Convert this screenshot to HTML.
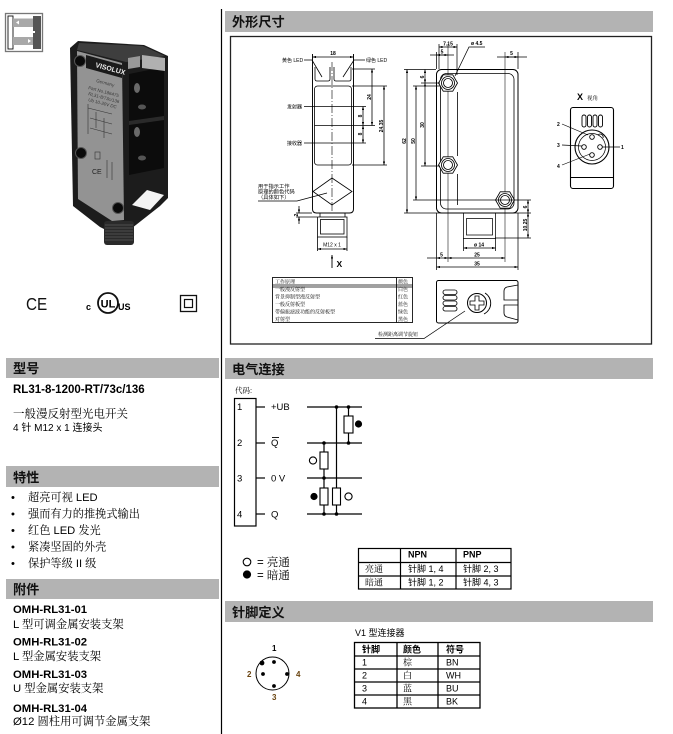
<!DOCTYPE html>
<html><head><meta charset="utf-8">
<style>
html,body{margin:0;padding:0;background:#fff;}
svg{display:block;}
.s{font-family:"Liberation Sans","Noto Sans CJK SC",sans-serif;}
.r{font-family:"Liberation Sans","Noto Serif CJK SC",serif;}
.h{font-family:"Liberation Sans","Noto Sans CJK SC",sans-serif;font-weight:bold;}
</style></head><body>
<svg width="673" height="734" viewBox="0 0 673 734" xmlns="http://www.w3.org/2000/svg">
<defs>
<marker id="a" viewBox="0 0 6 4" refX="6" refY="2" markerWidth="3.5" markerHeight="2.4" orient="auto-start-reverse" markerUnits="userSpaceOnUse"><path d="M0,0L6,2L0,4z" fill="#000"/></marker>
</defs>

<!-- header bars -->
<g fill="#b3b3b3">
<rect x="225" y="11" width="428" height="21"/>
<rect x="6" y="358" width="213" height="20"/>
<rect x="225" y="358" width="428" height="21"/>
<rect x="6" y="466" width="213" height="21"/>
<rect x="6" y="579" width="213" height="20"/>
<rect x="225" y="601" width="428" height="21"/>
</g>
<g class="h" font-size="13.2" fill="#111">
<text x="232" y="26.5">外形尺寸</text>
<text x="13" y="373">型号</text>
<text x="232" y="374">电气连接</text>
<text x="13" y="482">特性</text>
<text x="13" y="594">附件</text>
<text x="232" y="617">针脚定义</text>
</g>

<!-- vertical divider -->
<line x1="221.5" y1="9" x2="221.5" y2="734" stroke="#000" stroke-width="1.2"/>

<!-- top-left icon -->
<rect x="5.5" y="13.5" width="37" height="38" fill="#fff" stroke="#777" stroke-width="1.3"/>
<rect x="8" y="16" width="5" height="33" fill="#fff" stroke="#111" stroke-width="0.9"/>
<rect x="13" y="18.5" width="20" height="8.5" fill="#a8a8a8"/>
<rect x="13" y="37" width="20" height="8" fill="#a8a8a8"/>
<rect x="33" y="16" width="8" height="33" fill="#555"/>
<path d="M16,22.5 L19,20.5 L19,24.5z" fill="#fff"/>
<path d="M31,41 L28,39 L28,43z" fill="#fff"/>
<rect x="32" y="31" width="3" height="2" fill="#fff"/>

<!-- product photo -->
<g>
<polygon points="70,48 78,41 144,45 168,56 168,198 160,206 127,232 114,234 100,227 73,206" fill="#1c1c1c"/>
<polygon points="79,43 143,46 165,56 126,62 77,50" fill="#3e3e3e"/>
<polygon points="77,51 122,63 124,220 112,221 78,199" fill="#939393"/>
<polygon points="86,55 122,65 122,78 86,68" fill="#1a1a1a"/>
<text transform="translate(95,67) rotate(15) scale(0.5)" font-size="14" font-weight="bold" fill="#eee" class="s">VISOLUX</text>
<g fill="#3a3a3a" font-size="9" class="s">
<text transform="translate(96,82) rotate(15) scale(0.5)">Germany</text>
<text transform="translate(88,89) rotate(15) scale(0.5)">Part No.186475</text>
<text transform="translate(88,95) rotate(15) scale(0.5)">RL31-8/73c/136</text>
<text transform="translate(88,101) rotate(15) scale(0.5)">Ub 10-30V DC</text>
</g>
<g stroke="#333" stroke-width="0.6" fill="none">
<path d="M88,104 V134 M88,108 L112,114 M90,118 L112,124 M90,128 L112,134 M96,112 V128 M104,118 V138"/>
<rect x="95" y="152" width="5" height="7"/>
<path d="M107,160 V178 M112,162 V180"/>
</g>
<text x="92" y="174" font-size="7" fill="#222" class="s">CE</text>
<polygon points="129,74 164,67 164,168 129,175" fill="#0c0c0c"/>
<polygon points="129,121 164,116 164,120 129,125" fill="#2a2a2a"/>
<ellipse cx="137" cy="88" rx="3" ry="5" fill="#6a6a6a"/>
<ellipse cx="142" cy="107" rx="4" ry="2.5" fill="#555"/>
<ellipse cx="137" cy="132" rx="3" ry="5" fill="#6a6a6a"/>
<ellipse cx="142" cy="158" rx="4" ry="2.5" fill="#555"/>
<polygon points="142,55 165,58 165,71 142,68" fill="#b0b0b0"/>
<polygon points="128,58 140,56 140,67 128,69" fill="#999"/>
<polygon points="132,205 147,190 164,195 150,210" fill="#f4f4f4"/>
<circle cx="80" cy="61" r="5.5" fill="#0a0a0a" stroke="#555" stroke-width="1"/>
<circle cx="81" cy="153" r="5.5" fill="#0a0a0a" stroke="#555" stroke-width="1"/>
<circle cx="118" cy="208" r="5.5" fill="#0a0a0a" stroke="#555" stroke-width="1"/>
<rect x="104" y="221" width="30" height="24" rx="3" fill="#2a2a2a"/>
<g stroke="#5a5a5a" stroke-width="0.8">
<line x1="105" y1="225" x2="133" y2="225"/><line x1="105" y1="228" x2="133" y2="228"/>
<line x1="105" y1="231" x2="133" y2="231"/><line x1="105" y1="234" x2="133" y2="234"/>
<line x1="105" y1="237" x2="133" y2="237"/><line x1="105" y1="240" x2="133" y2="240"/>
</g>
</g>

<!-- certification marks -->
<text transform="translate(26,310) scale(0.85,1)" font-size="18" class="s" fill="#111">CE</text>
<text x="86" y="310" font-size="9" font-weight="bold" class="s">c</text>
<circle cx="108" cy="303" r="10" fill="none" stroke="#111" stroke-width="1.8"/>
<text x="108" y="307.5" font-size="11" font-weight="bold" class="s" text-anchor="middle">UL</text>
<text x="118" y="310" font-size="9" font-weight="bold" class="s">US</text>
<rect x="180.5" y="295.5" width="16" height="16" fill="none" stroke="#111" stroke-width="1.3"/>
<rect x="184.5" y="299.5" width="8" height="8" fill="none" stroke="#111" stroke-width="1.2"/>

<!-- left texts -->
<text x="13" y="393" font-size="11.5" font-weight="bold" class="s">RL31-8-1200-RT/73c/136</text>
<text x="13" y="417.5" font-size="11.5" class="r">一般漫反射型光电开关</text>
<text x="13" y="431" font-size="10" class="s">4 针 M12 x 1 连接头</text>
<g font-size="11.2" class="r">
<text x="11" y="501">•</text><text x="28" y="501">超亮可视 LED</text>
<text x="11" y="517.5">•</text><text x="28" y="517.5">强而有力的推挽式输出</text>
<text x="11" y="534">•</text><text x="28" y="534">红色 LED 发光</text>
<text x="11" y="550.5">•</text><text x="28" y="550.5">紧凑坚固的外壳</text>
<text x="11" y="567">•</text><text x="28" y="567">保护等级 II 级</text>
</g>
<g font-size="11.3" font-weight="bold" class="s">
<text x="13" y="613">OMH-RL31-01</text>
<text x="13" y="645.5">OMH-RL31-02</text>
<text x="13" y="678">OMH-RL31-03</text>
<text x="13" y="712">OMH-RL31-04</text>
</g>
<g font-size="11.3" class="r">
<text x="13" y="628">L 型可调金属安装支架</text>
<text x="13" y="660">L 型金属安装支架</text>
<text x="13" y="692">U 型金属安装支架</text>
<text x="13" y="725">Ø12 圆柱用可调节金属支架</text>
</g>

<!-- drawing box -->
<rect x="230.5" y="36.5" width="421" height="307.5" fill="none" stroke="#222" stroke-width="1.3"/>

<!-- side view -->
<g fill="none" stroke="#000" stroke-width="0.8">
<line x1="312.5" y1="57" x2="353.5" y2="57" marker-start="url(#a)" marker-end="url(#a)"/>
<path d="M312.5,54 V209 Q312.5,213 316.5,213 H349.5 Q353.5,213 353.5,209 V54" stroke-width="0.95"/>
<path d="M315,67 V79 Q315,81 317,81 H328 Q330,81 330,79 V67"/>
<path d="M334,67 V79 Q334,81 336,81 H349 Q351,81 351,79 V67"/>
<rect x="314.5" y="86" width="37" height="79" rx="3"/>
<line x1="332" y1="62" x2="332" y2="211" stroke-dasharray="9,2,1,2" stroke-width="0.6"/>
<path d="M332,178 L352,191.5 L332,205 L313,191.5 Z"/>
<line x1="320" y1="213" x2="320" y2="217"/>
<line x1="345" y1="213" x2="345" y2="217"/>
<rect x="317.5" y="217" width="29.5" height="20"/>
<rect x="320.5" y="219.5" width="23.5" height="14.5"/>
<!-- leaders -->
<path d="M304,60 H312 L322,77"/>
<path d="M365,60 H354 L343,77"/>
<line x1="304" y1="106.5" x2="366" y2="106.5"/>
<line x1="304" y1="143" x2="366" y2="143"/>
<line x1="314.5" y1="125.5" x2="375" y2="125.5"/>
<line x1="352" y1="69" x2="375" y2="69"/>
<line x1="352" y1="86" x2="387" y2="86"/>
<line x1="352" y1="165" x2="387" y2="165"/>
<line x1="372" y1="69" x2="372" y2="125.5" marker-start="url(#a)" marker-end="url(#a)"/>
<line x1="384" y1="86" x2="384" y2="165" marker-start="url(#a)" marker-end="url(#a)"/>
<line x1="363" y1="106.5" x2="363" y2="125.5" marker-start="url(#a)" marker-end="url(#a)"/>
<line x1="363" y1="125.5" x2="363" y2="143" marker-start="url(#a)" marker-end="url(#a)"/>
<path d="M258,201 H297 L327,193"/>
<line x1="296" y1="213" x2="312" y2="213"/>
<line x1="296" y1="217" x2="317" y2="217"/>
<line x1="299" y1="206" x2="299" y2="213" marker-end="url(#a)"/>
<line x1="299" y1="224" x2="299" y2="217" marker-end="url(#a)"/>
<line x1="317.5" y1="237" x2="317.5" y2="251"/>
<line x1="347" y1="237" x2="347" y2="251"/>
<line x1="317.5" y1="249" x2="347" y2="249" marker-start="url(#a)" marker-end="url(#a)"/>
<line x1="332" y1="268" x2="332" y2="255" marker-end="url(#a)" stroke-width="0.9"/>
</g>
<g font-size="10" class="s" fill="#000">
<text transform="translate(333,55) scale(0.5)" text-anchor="middle" font-weight="bold">18</text>
<text transform="translate(282,62) scale(0.5)">黄色 LED</text>
<text transform="translate(366,62) scale(0.5)">绿色 LED</text>
<text transform="translate(287,108.5) scale(0.5)">发射器</text>
<text transform="translate(287,145) scale(0.5)">接收器</text>
<text transform="translate(371,97) rotate(-90) scale(0.5)" text-anchor="middle" font-weight="bold">24</text>
<text transform="translate(383,126) rotate(-90) scale(0.5)" text-anchor="middle" font-weight="bold">24.35</text>
<text transform="translate(362,116) rotate(-90) scale(0.5)" text-anchor="middle" font-weight="bold">8</text>
<text transform="translate(362,134) rotate(-90) scale(0.5)" text-anchor="middle" font-weight="bold">8</text>
<text transform="translate(298,215) rotate(-90) scale(0.5)" text-anchor="middle" font-weight="bold">2</text>
<text transform="translate(332,246.5) scale(0.5)" text-anchor="middle">M12 x 1</text>
<text transform="translate(258,188) scale(0.5)" font-size="10.5">用于指示工作</text>
<text transform="translate(258,193.5) scale(0.5)" font-size="10.5">原理的颜色代码</text>
<text transform="translate(258,199) scale(0.5)" font-size="10.5">（具体如下）</text>
</g>
<text x="336.5" y="267" font-size="8.5" font-weight="bold" class="s">X</text>

<!-- color table -->
<g fill="none" stroke="#000" stroke-width="0.85">
<rect x="272.5" y="277.5" width="140" height="45"/>
<line x1="396.5" y1="277.5" x2="396.5" y2="322.5"/>
<line x1="272.5" y1="285" x2="412.5" y2="285"/>
<line x1="272.5" y1="287" x2="412.5" y2="287"/>
</g>
<g font-size="10" class="r">
<text transform="translate(275,283.5) scale(0.5)">工作原理</text>
<text transform="translate(275,291) scale(0.5)">一般漫反射型</text>
<text transform="translate(275,298.5) scale(0.5)">背景抑制型漫反射型</text>
<text transform="translate(275,306) scale(0.5)">一般反射板型</text>
<text transform="translate(275,313.5) scale(0.5)">带偏振滤波功能的反射板型</text>
<text transform="translate(275,321) scale(0.5)">对射型</text>
<text transform="translate(398,283.5) scale(0.5)">颜色</text>
<text transform="translate(398,291) scale(0.5)">白色</text>
<text transform="translate(398,298.5) scale(0.5)">红色</text>
<text transform="translate(398,306) scale(0.5)">蓝色</text>
<text transform="translate(398,313.5) scale(0.5)">绿色</text>
<text transform="translate(398,321) scale(0.5)">黑色</text>
<text transform="translate(378,336) scale(0.5)">检测距离调节旋钮</text>
</g>
<path d="M375,338.5 H424 L465,311" fill="none" stroke="#000" stroke-width="0.75"/>

<!-- front view -->
<g fill="none" stroke="#000" stroke-width="0.8">
<rect x="436.5" y="69.5" width="81.5" height="143.5" rx="5" stroke-width="1"/>
<rect x="440.5" y="73.5" width="73.5" height="135.5" rx="6"/>
<line x1="457.5" y1="92" x2="457.5" y2="156"/>
<line x1="457.5" y1="174" x2="457.5" y2="205"/>
<line x1="448" y1="44" x2="448" y2="262" stroke-width="0.55"/>
<line x1="505" y1="52" x2="505" y2="262" stroke-width="0.55"/>
</g>
<g fill="#fff" stroke="#000" stroke-width="0.85">
<polygon points="457.5,83 452.75,91.23 443.25,91.23 438.5,83 443.25,74.77 452.75,74.77"/>
<polygon points="457.5,165 452.75,173.23 443.25,173.23 438.5,165 443.25,156.77 452.75,156.77"/>
<polygon points="514.5,200 509.75,208.23 500.25,208.23 495.5,200 500.25,191.77 509.75,191.77"/>
<circle cx="448" cy="83" r="6.5"/><circle cx="448" cy="83" r="4.5"/>
<circle cx="448" cy="165" r="6.5"/><circle cx="448" cy="165" r="4.5"/>
<circle cx="505" cy="200" r="6.5"/><circle cx="505" cy="200" r="4.5"/>
</g>
<g fill="none" stroke="#000" stroke-width="0.75">
<rect x="463.5" y="213" width="32" height="25.5"/>
<rect x="466.5" y="218.5" width="26" height="16.5"/>
<!-- top dims -->
<line x1="439" y1="44" x2="439" y2="69"/>
<line x1="457" y1="44" x2="457" y2="75"/>
<line x1="439" y1="47" x2="457" y2="47" marker-start="url(#a)" marker-end="url(#a)"/>
<line x1="436.5" y1="52" x2="436.5" y2="69"/>
<line x1="430" y1="55" x2="454" y2="55"/>
<line x1="436.5" y1="55" x2="448" y2="55" marker-start="url(#a)" marker-end="url(#a)"/>
<path d="M485,47 H469 L455,76"/>
<line x1="518" y1="52" x2="518" y2="69"/>
<line x1="497" y1="57" x2="527" y2="57"/>
<line x1="505" y1="57" x2="518" y2="57" marker-start="url(#a)" marker-end="url(#a)"/>
<!-- left dims -->
<line x1="404" y1="69.5" x2="436" y2="69.5"/>
<line x1="404" y1="213" x2="531" y2="213"/>
<line x1="407" y1="69.5" x2="407" y2="213" marker-start="url(#a)" marker-end="url(#a)"/>
<line x1="413" y1="86" x2="440" y2="86"/>
<line x1="413" y1="200" x2="531" y2="200"/>
<line x1="416" y1="86" x2="416" y2="200" marker-start="url(#a)" marker-end="url(#a)"/>
<line x1="421" y1="83" x2="440" y2="83"/>
<line x1="421" y1="166" x2="440" y2="166"/>
<line x1="425" y1="69.5" x2="425" y2="83" marker-start="url(#a)" marker-end="url(#a)"/>
<line x1="425" y1="83" x2="425" y2="166" marker-start="url(#a)" marker-end="url(#a)"/>
<!-- right dims -->
<line x1="495" y1="238" x2="531" y2="238"/>
<line x1="528" y1="200" x2="528" y2="213" marker-start="url(#a)" marker-end="url(#a)"/>
<line x1="528" y1="213" x2="528" y2="238" marker-start="url(#a)" marker-end="url(#a)"/>
<!-- bottom dims -->
<line x1="463.5" y1="238" x2="463.5" y2="251"/>
<line x1="495.5" y1="238" x2="495.5" y2="251"/>
<line x1="463.5" y1="248" x2="495.5" y2="248" marker-start="url(#a)" marker-end="url(#a)"/>
<line x1="436.5" y1="213" x2="436.5" y2="270"/>
<line x1="518" y1="213" x2="518" y2="270"/>
<line x1="427" y1="258" x2="436.5" y2="258"/>
<line x1="436.5" y1="258" x2="448" y2="258" marker-start="url(#a)" marker-end="url(#a)"/>
<line x1="448" y1="258" x2="505" y2="258" marker-start="url(#a)" marker-end="url(#a)"/>
<line x1="436.5" y1="267" x2="518" y2="267" marker-start="url(#a)" marker-end="url(#a)"/>
</g>
<g font-size="10" class="s" font-weight="bold">
<text transform="translate(448,45.5) scale(0.5)" text-anchor="middle">7.15</text>
<text transform="translate(442,53.5) scale(0.5)" text-anchor="middle">5</text>
<text transform="translate(471,45) scale(0.5)">ø 4.5</text>
<text transform="translate(511.5,55) scale(0.5)" text-anchor="middle">5</text>
<text transform="translate(406,141) rotate(-90) scale(0.5)" text-anchor="middle">62</text>
<text transform="translate(415,141) rotate(-90) scale(0.5)" text-anchor="middle">50</text>
<text transform="translate(424,125) rotate(-90) scale(0.5)" text-anchor="middle">30</text>
<text transform="translate(424,77) rotate(-90) scale(0.5)" text-anchor="middle">6</text>
<text transform="translate(527,207) rotate(-90) scale(0.5)" text-anchor="middle">6</text>
<text transform="translate(527,225) rotate(-90) scale(0.5)" text-anchor="middle">10.25</text>
<text transform="translate(479,246.5) scale(0.5)" text-anchor="middle">ø 14</text>
<text transform="translate(441.5,256.5) scale(0.5)" text-anchor="middle">5</text>
<text transform="translate(477,256.5) scale(0.5)" text-anchor="middle">25</text>
<text transform="translate(477,265.5) scale(0.5)" text-anchor="middle">35</text>
</g>

<!-- X view -->
<text x="577" y="100" font-size="9" font-weight="bold" class="s">X</text>
<text transform="translate(587,100) scale(0.55)" font-size="10" class="r">视角</text>
<g fill="none" stroke="#000" stroke-width="0.9">
<rect x="570.5" y="107.5" width="43" height="81" rx="2.5" stroke-width="1.1"/>
<line x1="570.5" y1="177.5" x2="613.5" y2="177.5"/>
<rect x="582" y="115" width="4" height="12" rx="2"/>
<rect x="587.5" y="115" width="4" height="12" rx="2"/>
<rect x="593" y="115" width="4" height="12" rx="2"/>
<rect x="598.5" y="115" width="4" height="12" rx="2"/>
<circle cx="592" cy="147" r="17" stroke-width="1.1"/>
<circle cx="592" cy="147" r="13.5" stroke-width="0.7"/>
<circle cx="592" cy="137" r="2.3"/>
<circle cx="584" cy="147" r="2.3"/>
<circle cx="600" cy="147" r="2.3"/>
<circle cx="592" cy="155" r="2.3"/>
<path d="M598,135 A3,3 0 0 1 603,138" stroke-width="0.8"/>
<g stroke-width="0.65">
<line x1="562" y1="124" x2="588" y2="135"/>
<line x1="562" y1="145" x2="582" y2="146"/>
<line x1="562" y1="165" x2="590" y2="154"/>
<line x1="602" y1="147" x2="620" y2="147"/>
</g>
</g>
<g font-size="10" class="s" font-weight="bold">
<text transform="translate(557,126) scale(0.5)">2</text>
<text transform="translate(557,147) scale(0.5)">3</text>
<text transform="translate(557,168) scale(0.5)">4</text>
<text transform="translate(621,149) scale(0.5)">1</text>
</g>

<!-- adjuster view -->
<g fill="none" stroke="#000" stroke-width="0.85">
<rect x="436.5" y="280.5" width="81.5" height="42.5" rx="2" stroke-width="1"/>
<rect x="443" y="290" width="14" height="4.5" rx="2.2"/>
<rect x="443" y="295.5" width="14" height="4.5" rx="2.2"/>
<rect x="443" y="301" width="14" height="4.5" rx="2.2"/>
<rect x="443" y="306.5" width="14" height="4.5" rx="2.2"/>
<circle cx="477" cy="303" r="9.5" stroke-width="1"/>
<path d="M475,296 H479 V301 H484 V305 H479 V310 H475 V305 H470 V301 H475 Z" stroke-width="0.8"/>
<path d="M485,293 A12,12 0 0 1 484,314" stroke-width="0.9"/>
<path d="M518,285 L507,287 Q504,288 504,291 V300 H518"/>
<path d="M518,320 L507,317 Q504,316 504,313 V305 H518"/>
</g>

<!-- electrical connection -->
<text x="235" y="393" font-size="7.5" class="r">代码:</text>
<rect x="234.5" y="398.5" width="21.5" height="127.5" fill="none" stroke="#000" stroke-width="1.2"/>
<g font-size="9.5" class="s">
<text x="237" y="410">1</text>
<text x="237" y="446">2</text>
<text x="237" y="481.5">3</text>
<text x="237" y="517.5">4</text>
<text x="271" y="410">+UB</text>
<text x="271" y="446">Q</text>
<text x="271" y="481.5">0 V</text>
<text x="271" y="517.5">Q</text>
</g>
<line x1="272" y1="437.5" x2="279" y2="437.5" stroke="#000" stroke-width="0.9"/>
<g stroke="#000" stroke-width="1.2">
<line x1="256" y1="407" x2="265" y2="407"/>
<line x1="256" y1="443" x2="265" y2="443"/>
<line x1="256" y1="478" x2="265" y2="478"/>
<line x1="256" y1="514" x2="265" y2="514"/>
<line x1="307" y1="407" x2="362" y2="407"/>
<line x1="307" y1="443" x2="362" y2="443"/>
<line x1="307" y1="478" x2="362" y2="478"/>
<line x1="307" y1="514" x2="362" y2="514"/>
<line x1="336.5" y1="407" x2="336.5" y2="514"/>
<line x1="348.5" y1="407" x2="348.5" y2="443"/>
<line x1="324" y1="443" x2="324" y2="514"/>
</g>
<g fill="#fff" stroke="#000" stroke-width="1.1">
<rect x="344" y="416" width="9" height="17"/>
<rect x="320" y="452" width="8" height="17"/>
<rect x="320" y="488" width="8" height="17"/>
<rect x="332.5" y="488" width="8" height="17"/>
<circle cx="313" cy="460.5" r="3.6"/>
<circle cx="348.5" cy="496.5" r="3.6"/>
</g>
<g fill="#000">
<circle cx="358.5" cy="424" r="3.6"/>
<circle cx="314" cy="496.5" r="3.6"/>
<circle cx="336.5" cy="407" r="1.8"/>
<circle cx="348.5" cy="407" r="1.8"/>
<circle cx="348.5" cy="443" r="1.8"/>
<circle cx="324" cy="443" r="1.8"/>
<circle cx="324" cy="478" r="1.8"/>
<circle cx="324" cy="514" r="1.8"/>
<circle cx="336.5" cy="514" r="1.8"/>
</g>

<!-- legend -->
<circle cx="247" cy="562" r="3.8" fill="none" stroke="#000" stroke-width="1.1"/>
<circle cx="247" cy="574.5" r="4.1" fill="#000"/>
<g font-size="11.5" class="r">
<text x="257" y="566">= 亮通</text>
<text x="257" y="579">= 暗通</text>
</g>

<!-- NPN/PNP table -->
<g fill="none" stroke="#000" stroke-width="1.2">
<rect x="358.5" y="548.5" width="152.5" height="40.5"/>
<line x1="400.5" y1="548.5" x2="400.5" y2="589"/>
<line x1="456" y1="548.5" x2="456" y2="589"/>
<line x1="358.5" y1="562.5" x2="511" y2="562.5"/>
<line x1="358.5" y1="576" x2="511" y2="576"/>
</g>
<g font-size="9" class="s">
<text x="408" y="557.5" font-weight="bold">NPN</text>
<text x="463" y="557.5" font-weight="bold">PNP</text>
<text x="365" y="572" class="r">亮通</text>
<text x="365" y="585.5" class="r">暗通</text>
<text x="408" y="572">针脚 1, 4</text>
<text x="408" y="585.5">针脚 1, 2</text>
<text x="463" y="572">针脚 2, 3</text>
<text x="463" y="585.5">针脚 4, 3</text>
</g>

<!-- pin definition -->
<circle cx="272.5" cy="673.5" r="16.5" fill="none" stroke="#000" stroke-width="1"/>
<g fill="#000">
<circle cx="274" cy="662" r="1.9"/>
<circle cx="263" cy="674" r="1.9"/>
<circle cx="287" cy="674" r="1.9"/>
<circle cx="274" cy="686" r="1.9"/>
<circle cx="262" cy="663" r="2.4"/>
</g>
<g font-size="8" font-weight="bold" class="s">
<text x="272" y="651">1</text>
<text x="247" y="677" fill="#6a4410">2</text>
<text x="296" y="677" fill="#6a4410">4</text>
<text x="272" y="700" fill="#6a4410">3</text>
</g>
<text x="355" y="636" font-size="9" class="s">V1 型连接器</text>
<g fill="none" stroke="#000" stroke-width="1.3">
<rect x="354.5" y="642.5" width="125.5" height="65.5"/>
<line x1="397" y1="642.5" x2="397" y2="708"/>
<line x1="438" y1="642.5" x2="438" y2="708"/>
<line x1="354.5" y1="656" x2="480" y2="656"/>
<line x1="354.5" y1="669" x2="480" y2="669"/>
<line x1="354.5" y1="682" x2="480" y2="682"/>
<line x1="354.5" y1="695" x2="480" y2="695"/>
</g>
<g font-size="9" class="s">
<text x="362" y="652.5" font-weight="bold">针脚</text>
<text x="403" y="652.5" font-weight="bold">颜色</text>
<text x="446" y="652.5" font-weight="bold">符号</text>
<text x="362" y="665.5">1</text>
<text x="362" y="678.5">2</text>
<text x="362" y="691.5">3</text>
<text x="362" y="704.5">4</text>
<text x="403" y="665.5" class="r">棕</text>
<text x="403" y="678.5" class="r">白</text>
<text x="403" y="691.5" class="r">蓝</text>
<text x="403" y="704.5" class="r">黑</text>
<text x="446" y="665.5">BN</text>
<text x="446" y="678.5">WH</text>
<text x="446" y="691.5">BU</text>
<text x="446" y="704.5">BK</text>
</g>
</svg>
</body></html>
